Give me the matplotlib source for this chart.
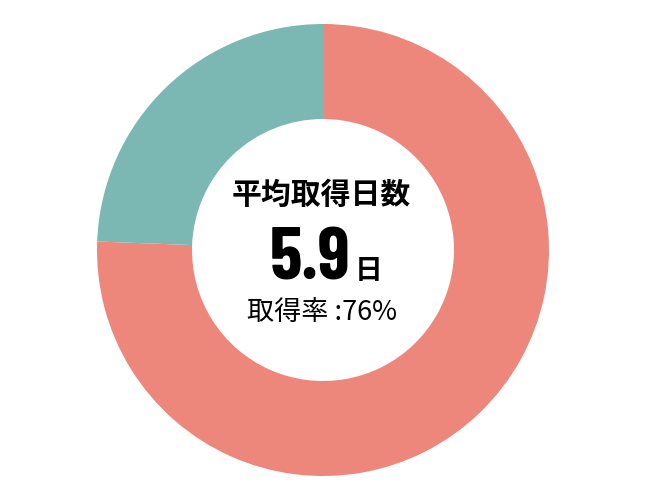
import matplotlib.pyplot as plt

# data
labels = ["取得", "未取得"]
shares = [75.6, 24.4]
colors = ["#ED867B", "#7BB8B3"]
avg_days = "5.9"
title_text = "平均取得日数"
rate_text = "取得率 :76%"

plt.rcParams['font.family'] = ['Noto Sans CJK JP', 'DejaVu Sans']

fig = plt.figure(figsize=(6.5, 5), dpi=100)
ax = fig.add_axes([0, 0, 1, 1])

# donut
ax.pie(shares, colors=colors, startangle=90, counterclock=False,
       center=(323, 250), radius=226, frame=True,
       wedgeprops=dict(width=95, edgecolor='none'))
ax.set_xlim(0, 650)
ax.set_ylim(0, 500)
ax.axis('off')

# texts in the hole
ax.text(321, 305, title_text, ha='center', va='center', fontsize=21.5,
        fontweight='bold', color='black')
ax.text(350, 220, avg_days, ha='right', va='baseline', fontsize=53,
        fontweight='bold', color='black',
        family=['Barlow Condensed', 'Liberation Sans', 'DejaVu Sans'])
ax.text(355, 221, "日", ha='left', va='baseline', fontsize=20,
        fontweight='bold', color='black')
ax.text(322, 188, rate_text, ha='center', va='center', fontsize=19.5,
        color='black')

fig.savefig('out.png', dpi=100)
